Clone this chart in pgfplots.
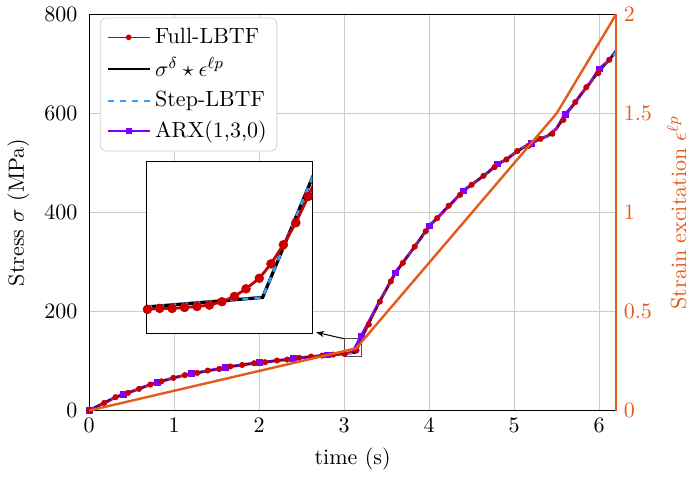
\documentclass[border=0pt,11pt]{standalone}
\usepackage{pgfplots}
\usepackage{pgfplotstable}
\pgfplotsset{compat=1.18}
\usetikzlibrary{arrows.meta}

\definecolor{fullred}{RGB}{200,0,0}
\definecolor{stepblue}{RGB}{51,160,255}
\definecolor{arxpurple}{RGB}{128,0,255}
\definecolor{strainorange}{RGB}{226,92,30}

\pgfplotstableread{
t s
0 0
0.1 9
0.2 17.5
0.3 26
0.4 32.5
0.5 38.5
0.6 44.8
0.7 51.3
0.8 56.7
0.9 61.5
1.0 66.3
1.1 70.5
1.2 74
1.3 77.2
1.4 80.5
1.5 83.5
1.6 87
1.7 89.8
1.8 92.2
1.9 94.6
2.0 96.8
2.1 98.5
2.2 100.7
2.3 102.6
2.4 104.8
2.5 106.8
2.6 108.6
2.7 110.2
2.8 111.8
2.9 113.2
3.0 114.6
3.14 116.6
3.2 141.7
3.3 177.3
3.4 212.9
3.5 245.2
3.6 274.2
3.7 300.4
3.8 324
3.9 347.7
4.0 369.8
4.1 389.4
4.2 407.9
4.3 425
4.4 441
4.5 456
4.6 468.9
4.7 482
4.8 494.8
4.9 506
5.0 519
5.1 530.5
5.2 537.7
5.3 548
5.4 555
5.5 569.8
5.6 592
5.7 617.8
5.8 641.4
5.9 663
6.0 683.3
6.1 704.3
6.2 724
}\conv

\pgfplotstableread{
t s
0 0
0.1 9
0.2 17.5
0.3 26
0.4 33
0.5 38.5
0.6 44.8
0.7 51.3
0.8 57.5
0.9 61.5
1.0 66.3
1.1 70.5
1.2 75
1.3 77.2
1.4 80.5
1.5 83.5
1.6 87.5
1.7 89.8
1.8 92.2
1.9 94.6
2.0 97.5
2.1 98.5
2.2 100.7
2.3 102.6
2.4 105.5
2.5 106.8
2.6 108.6
2.7 110.2
2.8 112.5
2.9 113.2
3.0 114.8
3.1 117.5
3.2 150
3.3 182
3.4 215
3.5 246
3.6 278
3.7 301
3.8 324
3.9 347.7
4.0 373
4.1 389.4
4.2 407.9
4.3 425
4.4 444
4.5 456
4.6 468.9
4.7 482
4.8 498
4.9 506
5.0 519
5.1 530.5
5.2 540
5.3 548
5.4 555
5.5 569.8
5.6 598
5.7 617.8
5.8 641.4
5.9 663
6.0 690
6.1 704.3
6.2 726
}\arx

\pgfplotstableread{
t s
0 0
0.176 15.5
0.31 27
0.457 35.7
0.586 43.8
0.72 52.5
0.85 59
0.99 66
1.125 71.4
1.27 76
1.395 80.8
1.53 84
1.66 89
1.80 92
1.94 95.6
2.07 97.6
2.21 101
2.33 103
2.47 106.5
2.61 109
2.74 111
2.87 113
3.005 114.3
3.146 121.5
3.29 173.7
3.42 220
3.55 261
3.69 298
3.83 331
3.96 362
4.095 388.5
4.23 413.5
4.365 435.7
4.50 456
4.64 474
4.77 491.5
4.91 507
5.037 524
5.17 534.7
5.31 548.8
5.45 559
5.58 587
5.72 622.9
5.85 653
5.99 681.4
6.12 708.5
}\fullred

\pgfplotstableread{
t s
2.986 113.9
3.0013 114.1
3.016 114.3
3.031 114.3
3.046 114.5
3.061 114.7
3.076 115.0
3.091 115.7
3.106 116.8
3.120 118.4
3.136 120.6
3.150 123.6
3.165 127.6
3.180 132.2
3.195 137.7
3.210 143.6
3.225 149.5
}\fullfine

\begin{document}
\begin{tikzpicture}
\begin{axis}[
  name=main,
  scale only axis, width=262pt, height=197pt,
  xmin=0, xmax=6.2, ymin=0, ymax=800,
  xtick={0,1,2,3,4,5,6}, ytick={0,200,400,600,800},
  grid=major, grid style={gray!40, line width=0.5pt},
  tick style={draw=none},
  yticklabel style={xshift=-2pt},
  xlabel={time (s)}, ylabel={Stress $\sigma$ (MPa)},
  axis line style={black, line width=0.6pt},
  legend style={at={(0.02,0.992)}, anchor=north west, rounded corners=3pt,
    draw=gray!35, fill=white, font=\normalsize, row sep=1.5pt,
    inner ysep=3pt},
  legend cell align=left,
  legend image code/.code={\draw[mark repeat=2,mark phase=2] plot coordinates {(0cm,0cm) (0.37cm,0cm) (0.74cm,0cm)};},
]
\addlegendimage{fullred, line width=0.6pt, mark=*, mark size=1.2pt, mark options={line width=0.4pt}}
\addlegendentry{Full-LBTF}
\addlegendimage{black, line width=1.3pt}
\addlegendentry{$\sigma^{\delta}\star\epsilon^{\ell p}$}
\addlegendimage{stepblue, dashed, line width=1pt}
\addlegendentry{Step-LBTF}
\addlegendimage{arxpurple, line width=1pt, mark=square*, mark size=1.2pt, mark options={line width=0.4pt}}
\addlegendentry{ARX(1,3,0)}

\addplot[forget plot, arxpurple, line width=1.5pt, mark=square*, mark size=1.4pt, mark options={line width=0.3pt}, mark repeat=4] table[x=t,y=s]{\arx};
\addplot[forget plot, black, line width=0.8pt] table[x=t,y=s]{\conv};
\addplot[forget plot, stepblue, dashed, line width=0.8pt] table[x=t,y=s]{\conv};
\addplot[forget plot, fullred, line width=0.5pt, mark=*, mark size=1.35pt, mark options={line width=0.3pt}] table[x=t,y=s]{\fullred};

\draw[black!70, line width=0.5pt] (axis cs:3.0,109) rectangle (axis cs:3.2,145);
\draw[black, line width=0.5pt, -{Stealth[length=4pt,width=3pt]}] (axis cs:3.0,145) -- (axis cs:2.67,158);
\coordinate (insetpos) at (axis cs:0.672,155);
\end{axis}

\begin{axis}[
  scale only axis, width=262pt, height=197pt,
  xmin=0, xmax=6.2, ymin=0, ymax=2,
  axis y line*=right, axis x line=none,
  ytick={0,0.5,1,1.5,2},
  tick style={draw=none},
  y axis line style={strainorange, line width=0.6pt},
  yticklabel style={strainorange},
  ylabel={Strain excitation $\epsilon^{\ell p}$},
  ylabel style={strainorange},
]
\addplot[strainorange, line width=1.2pt] coordinates {(0,0) (3.14,0.314) (5.5,1.5) (6.2,2.0)};
\end{axis}

\begin{axis}[
  at={(insetpos)}, anchor=south west,
  scale only axis, width=82.6pt, height=85.7pt,
  xmin=3.0, xmax=3.2, ymin=109, ymax=145,
  xtick=\empty, ytick=\empty,
  axis background/.style={fill=white},
  axis line style={black, line width=0.6pt},
]
\addplot[black, line width=1.6pt] table[x=t,y=s]{\conv};
\addplot[stepblue, dashed, line width=1.2pt] table[x=t,y=s]{\conv};
\addplot[fullred, line width=1.4pt, mark=*, mark size=2.2pt, mark options={line width=0.3pt}] table[x=t,y=s]{\fullfine};
\end{axis}
\end{tikzpicture}
\end{document}
